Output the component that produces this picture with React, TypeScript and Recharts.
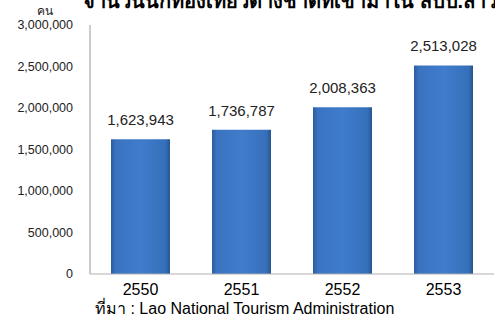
import React from "react";
import { BarChart, Bar, XAxis, YAxis, LabelList } from "recharts";

const years = ["2550", "2551", "2552", "2553"];
const visitors = [1623943, 1736787, 2008363, 2513028];
const yTicks = [0, 500000, 1000000, 1500000, 2000000, 2500000, 3000000];
const title = "จำนวนนักท่องเที่ยวต่างชาติที่เข้ามาใน สปป.ลาว";
const unitLabel = "คน";
const sourceLabel = "ที่มา : Lao National Tourism Administration";

const data = years.map((y, i) => ({ year: y, value: visitors[i] }));
const fmt = (v: number) => v.toLocaleString("en-US");
const font = "'Liberation Sans', Arial, 'Noto Sans', sans-serif";

export default function App() {
  return (
    <div style={{ position: "absolute", left: 0, top: 0, width: 495, height: 316, background: "#fff", overflow: "hidden" }}>
      <BarChart width={495} height={316} data={data} margin={{ top: 25, right: 1, left: 0, bottom: 20 }} barSize={59}>
        <defs>
          <linearGradient id="barGrad" x1="0" y1="0" x2="1" y2="0">
            <stop offset="0%" stopColor="#2c5c9e" />
            <stop offset="8%" stopColor="#3a73c0" />
            <stop offset="50%" stopColor="#3f7ccc" />
            <stop offset="92%" stopColor="#3670bb" />
            <stop offset="100%" stopColor="#28548f" />
          </linearGradient>
        </defs>
        <XAxis
          dataKey="year"
          axisLine={{ stroke: "#b0b0b0" }}
          tickLine={false}
          tickSize={8}
          tickMargin={2}
          height={22}
          tick={{ fill: "#000", fontSize: 16, fontFamily: font }}
        />
        <YAxis
          width={90}
          domain={[0, 3000000]}
          ticks={yTicks}
          interval={0}
          tickFormatter={fmt}
          axisLine={{ stroke: "#999" }}
          tickLine={false}
          tickSize={15}
          tickMargin={2}
          tick={{ fill: "#222", fontSize: 12.5, fontFamily: font }}
        />
        <Bar dataKey="value" fill="url(#barGrad)" isAnimationActive={false}>
          <LabelList
            dataKey="value"
            position="top"
            offset={14}
            formatter={(v: any) => fmt(Number(v))}
            style={{ fill: "#222", fontSize: 15, fontFamily: font }}
          />
        </Bar>
      </BarChart>
      <svg width={495} height={316} style={{ position: "absolute", left: 0, top: 0, pointerEvents: "none" }}>
        <text x={83} y={8} fontSize={20} fontWeight="bold" fill="#000" fontFamily={font}>{title}</text>
        <text x={45} y={15} fontSize={12} textAnchor="middle" fill="#222" fontFamily={font}>{unitLabel}</text>
        <text x={95} y={314} fontSize={16} fill="#000" fontFamily={font}>{sourceLabel}</text>
      </svg>
    </div>
  );
}
